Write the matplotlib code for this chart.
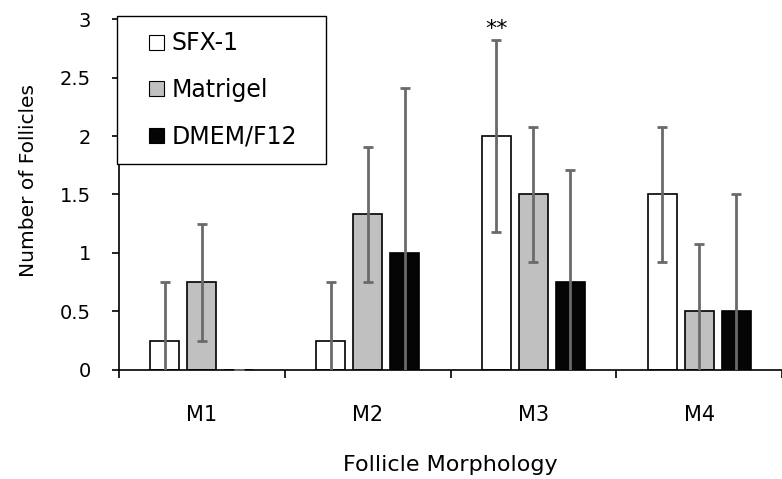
import matplotlib
matplotlib.use("Agg")
import matplotlib.pyplot as plt
from matplotlib.patches import Patch, Rectangle
from matplotlib.legend_handler import HandlerPatch
import numpy as np

categories = ["M1", "M2", "M3", "M4"]
series_names = ["SFX-1", "Matrigel", "DMEM/F12"]
sfx_vals = [0.25, 0.25, 2.0, 1.5]
sfx_err = [0.5, 0.5, 0.82, 0.58]
matrigel_vals = [0.75, 1.33, 1.5, 0.5]
matrigel_err = [0.5, 0.58, 0.58, 0.58]
dmem_vals = [0.0, 1.0, 0.75, 0.5]
dmem_err = [0.0, 1.41, 0.96, 1.0]
yticks = [0, 0.5, 1, 1.5, 2, 2.5, 3]
ytick_labels = ["0", "0.5", "1", "1.5", "2", "2.5", "3"]
annotation_text = "**"
annotation_cat = 2

plt.rcParams['font.family'] = ['DejaVu Sans']

fig = plt.figure(figsize=(7.82, 4.79), dpi=100)
ax = fig.add_axes([0.1522, 0.2276, 0.8478, 0.7327])

x = np.arange(len(categories))
offs = [-0.223, 0.0, 0.223]
width = 0.175
colors = ["white", "#c0c0c0", "#050505"]
vals = [sfx_vals, matrigel_vals, dmem_vals]
errs = [sfx_err, matrigel_err, dmem_err]

for off, c, v, e in zip(offs, colors, vals, errs):
    ax.bar(x + off, v, width, color=c, edgecolor="black", linewidth=1.2, zorder=2)
    ax.errorbar(x + off, v, yerr=e, fmt="none", ecolor="#6a6a6a", elinewidth=2,
                capsize=3.6, capthick=2, zorder=3)

ax.text(x[annotation_cat] + offs[0], sfx_vals[annotation_cat] + sfx_err[annotation_cat] + 0.04,
        annotation_text, ha="center", va="baseline", fontsize=16)

ax.set_xlim(-0.5, 3.5)
ax.set_ylim(0, 3)
ax.set_yticks(yticks)
ax.set_yticklabels(ytick_labels)
ax.set_xticks(np.arange(-0.5, 4.0, 1.0))
ax.set_xticklabels([])
ax.set_xticks(x, minor=True)
ax.set_xticklabels(categories, minor=True)
ax.tick_params(axis="x", which="major", length=5.5, width=1.2, direction="out")
ax.tick_params(axis="x", which="minor", length=0, pad=25, labelsize=15)
ax.tick_params(axis="y", length=5, width=1.2, labelsize=14, pad=15)
for s in ["top", "right"]:
    ax.spines[s].set_visible(False)
for s in ["left", "bottom"]:
    ax.spines[s].set_linewidth(1.2)

ax.set_ylabel("Number of Follicles", fontsize=14.5)
ax.yaxis.set_label_coords(-0.122, 0.54)
ax.set_xlabel("Follicle Morphology", fontsize=16)
ax.xaxis.set_label_coords(0.5, -0.243)


def square_patch(legend, orig_handle, xdescent, ydescent, width, height, fontsize):
    s = 15.0 / 1.389
    return Rectangle((-xdescent + width - s, -ydescent + (height - s) / 2), s, s)


handles = [Patch(facecolor=c, edgecolor="black", linewidth=0.8) for c in colors]
leg = ax.legend(handles, series_names, loc="upper left",
                bbox_to_anchor=(-0.003, 0.0, 0.315, 1.0085), mode="expand",
                fontsize=17, frameon=True, fancybox=False, handlelength=1.36,
                handleheight=0.7, handletextpad=0.3, labelspacing=0.96,
                borderpad=0.65, borderaxespad=0, framealpha=1,
                handler_map={Patch: HandlerPatch(patch_func=square_patch)})
leg.get_frame().set_edgecolor("black")
leg.get_frame().set_linewidth(1.0)

fig.savefig("out.png", dpi=100)
